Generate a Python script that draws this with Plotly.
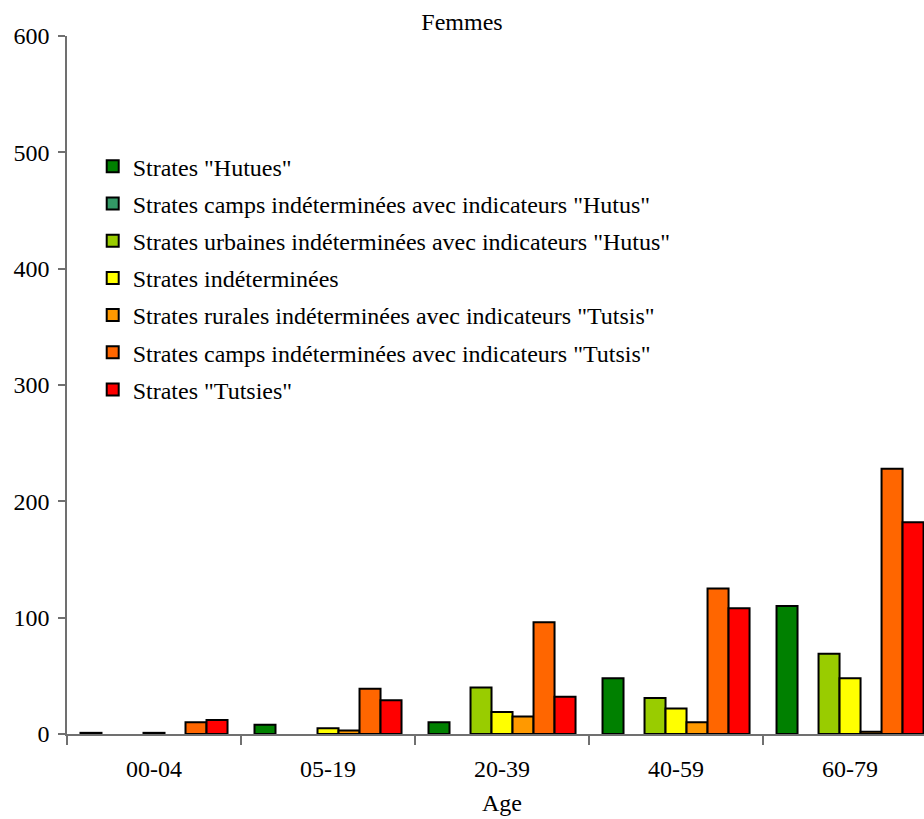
import plotly.graph_objects as go

ages = ["00-04", "05-19", "20-39", "40-59", "60-79"]

series_names = [
    'Strates "Hutues"',
    'Strates camps indéterminées avec indicateurs "Hutus"',
    'Strates urbaines indéterminées avec indicateurs "Hutus"',
    'Strates indéterminées',
    'Strates rurales indéterminées avec indicateurs "Tutsis"',
    'Strates camps indéterminées avec indicateurs "Tutsis"',
    'Strates "Tutsies"',
]

hutues = [1, 8, 10, 48, 110]
camps_hutus = [0, 0, 0, 0, 0]
urbaines_hutus = [0, 0, 40, 31, 69]
indeterminees = [1, 5, 19, 22, 48]
rurales_tutsis = [0, 3, 15, 10, 2]
camps_tutsis = [10, 39, 96, 125, 228]
tutsies = [12, 29, 32, 108, 182]

series_values = [hutues, camps_hutus, urbaines_hutus, indeterminees,
                 rurales_tutsis, camps_tutsis, tutsies]

colors = ["#008000", "#339966", "#99CC00", "#FFFF00", "#FF9900", "#FF6600", "#FF0000"]

y_ticks = [0, 100, 200, 300, 400, 500, 600]

serif = "Liberation Serif, Times New Roman, serif"

fig = go.Figure()
for i, (name, vals, col) in enumerate(zip(series_names, series_values, colors)):
    # empty cells are left out so no outline is drawn on the baseline
    shown = [v if v > 0 else None for v in vals]
    fig.add_trace(go.Bar(
        x=ages, y=shown, name=name,
        marker=dict(color=col, line=dict(color="black", width=2)),
        legendgroup=f"g{i}",
    ))

plot_top, plot_bottom = 36, 734
fig.add_annotation(
    text="Age", x=2, xref="x",
    y=(plot_bottom - 803) / (plot_bottom - plot_top), yref="paper",
    yanchor="middle", showarrow=False,
    font=dict(family=serif, size=24, color="black"),
)

fig.update_layout(
    width=924, height=819,
    margin=dict(l=67, r=0, t=plot_top, b=819 - plot_bottom, autoexpand=False),
    paper_bgcolor="white", plot_bgcolor="white",
    barmode="group", bargap=0.155, bargroupgap=0,
    font=dict(family=serif, size=24, color="black"),
    title=dict(text="Femmes", x=0.5, xref="container", xanchor="center",
               y=1 - 22 / 819, yanchor="middle",
               font=dict(family=serif, size=24, color="black")),
    legend=dict(x=0.030, y=0.845, xanchor="left", yanchor="top",
                bgcolor="rgba(0,0,0,0)", traceorder="grouped",
                tracegroupgap=3, font=dict(family=serif, size=24),
                itemwidth=30),
    xaxis=dict(
        type="category",
        range=[-0.5, 4.425], showgrid=False, showline=True,
        linecolor="#707070", linewidth=1.5,
        ticks="outside", tickson="boundaries", ticklen=9,
        tickcolor="#707070", tickwidth=1.5,
        ticklabelstandoff=12,
        tickfont=dict(family=serif, size=24),
    ),
    yaxis=dict(
        range=[0, 600], tickvals=y_ticks, showgrid=False, showline=True,
        linecolor="#707070", linewidth=1.5, zeroline=False,
        ticks="outside", ticklen=7, tickcolor="#707070", tickwidth=1.5,
        ticklabelstandoff=4,
        tickfont=dict(family=serif, size=24),
    ),
)

fig.write_html("out.html")
